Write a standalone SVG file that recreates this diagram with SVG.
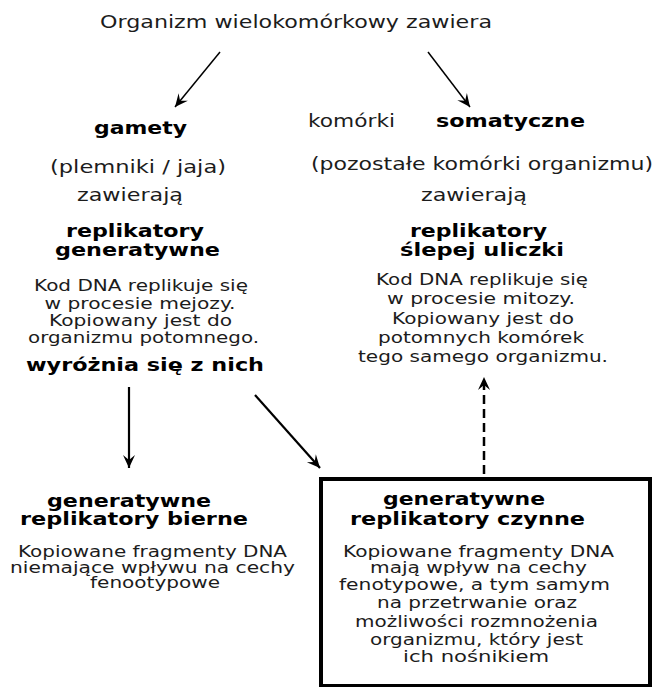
<svg xmlns="http://www.w3.org/2000/svg" width="655" height="687" viewBox="0 0 655 687">
<style>
text{font-family:"DejaVu Sans","Noto Sans",sans-serif;text-anchor:middle}
.t{font-size:18px;fill:#1c1c1c}
.b{font-size:18px;font-weight:bold;fill:#000}
.s{font-size:15px;fill:#1c1c1c}
.c{fill:none;stroke:#000}
</style>
<defs>
<marker id="ah" viewBox="-14 -7 16 14" markerWidth="16" markerHeight="14" refX="0" refY="0" orient="auto" markerUnits="userSpaceOnUse">
<path d="M0,0 L-13,-6 L-8,0 L-13,6 Z" fill="#000"/>
</marker>
</defs>
<rect width="655" height="687" fill="#fff"/>
<g id="connectors">
<line class="c" x1="220" y1="52" x2="175" y2="107" stroke-width="1.5" marker-end="url(#ah)"/>
<line class="c" x1="428" y1="52" x2="470" y2="107" stroke-width="1.5" marker-end="url(#ah)"/>
<line class="c" x1="129" y1="387" x2="129" y2="468" stroke-width="2.2" marker-end="url(#ah)"/>
<line class="c" x1="255" y1="395" x2="320" y2="468" stroke-width="2.2" marker-end="url(#ah)"/>
<line class="c" x1="484" y1="474" x2="484" y2="377" stroke-width="2.5" stroke-dasharray="9,5" marker-end="url(#ah)"/>
</g>
<g id="title">
<text class="t" x="296" y="28" textLength="392" lengthAdjust="spacingAndGlyphs">Organizm wielokomórkowy zawiera</text>
</g>
<g id="gamety">
<text class="b" x="140.5" y="134" textLength="93" lengthAdjust="spacingAndGlyphs">gamety</text>
<text class="t" x="138" y="173" textLength="176" lengthAdjust="spacingAndGlyphs">(plemniki / jaja)</text>
<text class="t" x="130" y="201" textLength="106" lengthAdjust="spacingAndGlyphs">zawierają</text>
</g>
<g id="somatyczne">
<text class="t" x="351.5" y="127" textLength="87" lengthAdjust="spacingAndGlyphs">komórki</text>
<text class="b" x="510.5" y="127" textLength="149" lengthAdjust="spacingAndGlyphs">somatyczne</text>
<text class="t" x="482" y="170" textLength="342" lengthAdjust="spacingAndGlyphs">(pozostałe komórki organizmu)</text>
<text class="t" x="474" y="201" textLength="106" lengthAdjust="spacingAndGlyphs">zawierają</text>
</g>
<g id="replikatory-generatywne">
<text class="b" x="135" y="237" textLength="138" lengthAdjust="spacingAndGlyphs">replikatory</text>
<text class="b" x="137.5" y="256" textLength="165" lengthAdjust="spacingAndGlyphs">generatywne</text>
<text class="s" x="141" y="291" textLength="214" lengthAdjust="spacingAndGlyphs">Kod DNA replikuje się</text>
<text class="s" x="140" y="308.5" textLength="191" lengthAdjust="spacingAndGlyphs">w procesie mejozy.</text>
<text class="s" x="140.5" y="326" textLength="183" lengthAdjust="spacingAndGlyphs">Kopiowany jest do</text>
<text class="s" x="143.5" y="343" textLength="231" lengthAdjust="spacingAndGlyphs">organizmu potomnego.</text>
</g>
<g id="wyroznia">
<text class="b" x="145" y="371" textLength="238" lengthAdjust="spacingAndGlyphs">wyróżnia się z nich</text>
</g>
<g id="replikatory-slepej-uliczki">
<text class="b" x="478.5" y="237" textLength="137" lengthAdjust="spacingAndGlyphs">replikatory</text>
<text class="b" x="482" y="256" textLength="164" lengthAdjust="spacingAndGlyphs">ślepej uliczki</text>
<text class="s" x="482" y="285" textLength="212" lengthAdjust="spacingAndGlyphs">Kod DNA replikuje się</text>
<text class="s" x="481" y="304" textLength="188" lengthAdjust="spacingAndGlyphs">w procesie mitozy.</text>
<text class="s" x="483" y="324" textLength="182" lengthAdjust="spacingAndGlyphs">Kopiowany jest do</text>
<text class="s" x="481" y="343" textLength="206" lengthAdjust="spacingAndGlyphs">potomnych komórek</text>
<text class="s" x="483" y="362" textLength="250" lengthAdjust="spacingAndGlyphs">tego samego organizmu.</text>
</g>
<g id="replikatory-bierne">
<text class="b" x="129" y="507" textLength="164" lengthAdjust="spacingAndGlyphs">generatywne</text>
<text class="b" x="134" y="525" textLength="228" lengthAdjust="spacingAndGlyphs">replikatory bierne</text>
<text class="s" x="152.5" y="557" textLength="269" lengthAdjust="spacingAndGlyphs">Kopiowane fragmenty DNA</text>
<text class="s" x="152.5" y="573" textLength="285" lengthAdjust="spacingAndGlyphs">niemające wpływu na cechy</text>
<text class="s" x="155" y="588" textLength="130" lengthAdjust="spacingAndGlyphs">fenootypowe</text>
</g>
<g id="replikatory-czynne">
<rect x="321" y="479" width="329" height="207" fill="none" stroke="#000" stroke-width="4"/>
<text class="b" x="464" y="505" textLength="162" lengthAdjust="spacingAndGlyphs">generatywne</text>
<text class="b" x="467.5" y="525" textLength="235" lengthAdjust="spacingAndGlyphs">replikatory czynne</text>
<text class="s" x="478.5" y="557" textLength="271" lengthAdjust="spacingAndGlyphs">Kopiowane fragmenty DNA</text>
<text class="s" x="478.5" y="573" textLength="217" lengthAdjust="spacingAndGlyphs">mają wpływ na cechy</text>
<text class="s" x="474.5" y="590" textLength="271" lengthAdjust="spacingAndGlyphs">fenotypowe, a tym samym</text>
<text class="s" x="477" y="608" textLength="200" lengthAdjust="spacingAndGlyphs">na przetrwanie oraz</text>
<text class="s" x="476.5" y="627" textLength="243" lengthAdjust="spacingAndGlyphs">możliwości rozmnożenia</text>
<text class="s" x="476.5" y="645" textLength="213" lengthAdjust="spacingAndGlyphs">organizmu, który jest</text>
<text class="s" x="476" y="662" textLength="146" lengthAdjust="spacingAndGlyphs">ich nośnikiem</text>
</g>
</svg>
